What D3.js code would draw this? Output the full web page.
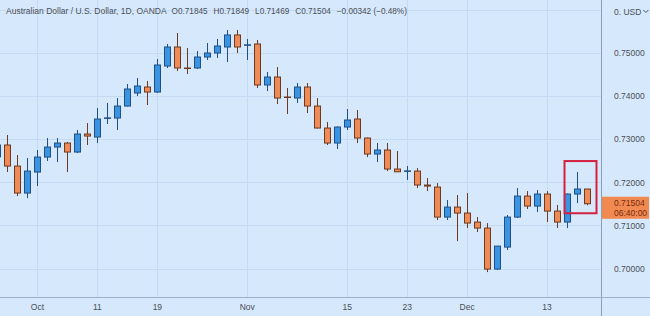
<!DOCTYPE html>
<html>
<head>
<meta charset="utf-8">
<script src="https://cdn.jsdelivr.net/npm/d3@7"></script>
<style>
  body { margin: 0; background: #d6e8fb; }
  svg { display: block; }
  text { font-family: "Liberation Sans", Arial, sans-serif; }
</style>
</head>
<body>
<script>
// AUD/USD daily, OANDA
const dates = [
  "2021-09-27","2021-09-28","2021-09-29","2021-09-30","2021-10-01",
  "2021-10-04","2021-10-05","2021-10-06","2021-10-07","2021-10-08",
  "2021-10-11","2021-10-12","2021-10-13","2021-10-14","2021-10-15",
  "2021-10-18","2021-10-19","2021-10-20","2021-10-21","2021-10-22",
  "2021-10-25","2021-10-26","2021-10-27","2021-10-28","2021-10-29",
  "2021-11-01","2021-11-02","2021-11-03","2021-11-04","2021-11-05",
  "2021-11-08","2021-11-09","2021-11-10","2021-11-11","2021-11-12",
  "2021-11-15","2021-11-16","2021-11-17","2021-11-18","2021-11-19",
  "2021-11-22","2021-11-23","2021-11-24","2021-11-25","2021-11-26",
  "2021-11-29","2021-11-30","2021-12-01","2021-12-02","2021-12-03",
  "2021-12-06","2021-12-07","2021-12-08","2021-12-09","2021-12-10",
  "2021-12-13","2021-12-14","2021-12-15","2021-12-16","2021-12-17"
];
const open = [
  0.72590,0.72866,0.72378,0.71752,0.72239,0.72587,0.72819,0.72912,0.72703,0.73121,
  0.73051,0.73490,0.73492,0.73770,0.74072,0.74211,0.74095,0.74698,0.75139,0.74652,
  0.74652,0.74907,0.75000,0.75139,0.75418,0.75186,0.75209,0.74258,0.74443,0.73979,
  0.73956,0.74211,0.73770,0.73260,0.72912,0.73283,0.73469,0.73028,0.72657,0.72750,
  0.72309,0.72262,0.72262,0.71938,0.71891,0.71195,0.71427,0.71288,0.71079,0.70940,
  0.69989,0.70499,0.71195,0.71682,0.71450,0.71729,0.71334,0.71079,0.71729,0.71845
];
const high = [
  0.73000,0.73098,0.72634,0.72564,0.72750,0.73028,0.73028,0.72935,0.73214,0.73376,
  0.73724,0.73840,0.73956,0.74280,0.74420,0.74350,0.74861,0.75209,0.75464,0.75116,
  0.75046,0.75232,0.75325,0.75534,0.75534,0.75325,0.75302,0.74559,0.74675,0.74188,
  0.74304,0.74304,0.73956,0.73400,0.73300,0.73701,0.73678,0.73040,0.72912,0.72912,
  0.72726,0.72378,0.72332,0.72100,0.71984,0.71590,0.71706,0.71752,0.71195,0.71056,
  0.70522,0.71242,0.71868,0.71798,0.71822,0.71798,0.71474,0.71740,0.72239,0.71849
];
const low = [
  0.72500,0.72239,0.71682,0.71636,0.71914,0.72494,0.72471,0.72239,0.72680,0.72866,
  0.72912,0.73353,0.73214,0.73760,0.74002,0.73794,0.74072,0.74652,0.74582,0.74513,
  0.74630,0.74838,0.74884,0.74791,0.75000,0.74838,0.74188,0.74118,0.73817,0.73585,
  0.73840,0.73608,0.73250,0.72866,0.72773,0.73214,0.72912,0.72587,0.72471,0.72262,
  0.72239,0.72054,0.71868,0.71798,0.71126,0.71126,0.70638,0.70940,0.70847,0.69919,
  0.69966,0.70430,0.71172,0.71381,0.71311,0.71079,0.70940,0.70940,0.71520,0.71469
];
const close = [
  0.72866,0.72378,0.71752,0.72262,0.72587,0.72819,0.72912,0.72703,0.73121,0.73074,
  0.73469,0.73495,0.73770,0.74165,0.74234,0.74095,0.74722,0.75139,0.74652,0.74645,
  0.74907,0.75000,0.75162,0.75418,0.75139,0.75190,0.74258,0.74443,0.73956,0.73975,
  0.74211,0.73770,0.73260,0.72912,0.73283,0.73446,0.73028,0.72657,0.72750,0.72309,
  0.72245,0.72266,0.71938,0.71914,0.71195,0.71427,0.71288,0.71056,0.70940,0.69989,
  0.70522,0.71195,0.71682,0.71450,0.71729,0.71334,0.71079,0.71729,0.71846,0.71504
];
const dateTicks = ["2021-10-01","2021-10-11","2021-10-19","2021-11-01","2021-11-15","2021-11-23","2021-12-01","2021-12-13"];
const dateLabels = ["Oct","11","19","Nov","15","23","Dec","13"];
const priceTicks = [0.70, 0.71, 0.72, 0.73, 0.74, 0.75];
const gridPrices = [0.70, 0.71, 0.72, 0.73, 0.74, 0.75, 0.76];
const highlight = ["2021-12-16", "2021-12-17"];
const timer = "06:40:00";

const W = 650, H = 316;
const axisX = 601, axisY = 297;
const upFill = "#3a94e2", upLine = "#1f4f84";
const downFill = "#ef8b56", downLine = "#6e3a1f";
const txt = "#4a4f57";

const x = d3.scalePoint().domain(dates).range([-3, 586.5]);
const y = d3.scaleLinear().domain([0.70, 0.75]).range([268.6, 53]);

const candles = dates.map((d, i) => ({date: d, o: open[i], h: high[i], l: low[i], c: close[i]}));
const last = candles[candles.length - 1];
const prev = candles[candles.length - 2];

const svg = d3.select("body").append("svg").attr("width", W).attr("height", H);

svg.append("rect").attr("width", W).attr("height", H).attr("fill", "#d6e8fb");

// grid
const grid = svg.append("g").attr("stroke", "#c4dbf3").attr("stroke-width", 1);
grid.selectAll("line.h").data(gridPrices).enter().append("line")
  .attr("x1", 0).attr("x2", axisX)
  .attr("y1", d => Math.round(y(d)) + 0.5).attr("y2", d => Math.round(y(d)) + 0.5);
grid.selectAll("line.v").data(dateTicks).enter().append("line")
  .attr("y1", 0).attr("y2", axisY)
  .attr("x1", d => Math.round(x(d)) + 0.5).attr("x2", d => Math.round(x(d)) + 0.5);

// candles
const cg = svg.append("g").selectAll("g").data(candles).enter().append("g");
cg.append("line")
  .attr("x1", d => Math.round(x(d.date)) + 0.5).attr("x2", d => Math.round(x(d.date)) + 0.5)
  .attr("y1", d => y(d.h)).attr("y2", d => y(d.l))
  .attr("stroke", d => d.c >= d.o ? upLine : downLine);
cg.append("rect")
  .attr("x", d => Math.round(x(d.date)) - 3 + 0.5)
  .attr("width", 6)
  .attr("y", d => y(Math.max(d.o, d.c)))
  .attr("height", d => Math.max(0.5, Math.abs(y(d.o) - y(d.c))))
  .attr("fill", d => d.c >= d.o ? upFill : downFill)
  .attr("stroke", d => d.c >= d.o ? upLine : downLine);

// highlight box round the last two candles
const hl = candles.filter(d => highlight.includes(d.date));
const hx0 = x(hl[0].date) - 12, hx1 = x(hl[hl.length - 1].date) + 10;
const hy0 = y(d3.max(hl, d => d.h)) - 11, hy1 = y(d3.min(hl, d => d.l)) + 8;
svg.append("rect")
  .attr("x", hx0).attr("y", hy0).attr("width", hx1 - hx0).attr("height", hy1 - hy0)
  .attr("fill", "none").attr("stroke", "#d4203f").attr("stroke-width", 2);

// axes frame
svg.append("line").attr("x1", axisX + 0.5).attr("x2", axisX + 0.5).attr("y1", 0).attr("y2", H)
  .attr("stroke", "#8d9db3");
svg.append("line").attr("x1", 0).attr("x2", W).attr("y1", axisY + 0.5).attr("y2", axisY + 0.5)
  .attr("stroke", "#9fb0c6");

// price axis
const yAxis = d3.axisRight(y).tickValues(priceTicks).tickFormat(d3.format(".5f")).tickSize(0).tickPadding(0);
svg.append("g").attr("transform", `translate(${axisX + 13},0)`).call(yAxis)
  .call(g => g.select(".domain").remove())
  .call(g => g.selectAll("text").attr("fill", txt).attr("font-size", 8.5)
    .attr("font-family", "Liberation Sans, Arial, sans-serif"));

// currency label with a small chevron
const cur = svg.append("text").attr("x", axisX + 13).attr("y", 15)
  .attr("font-size", 8.5).attr("fill", txt).text("0. USD");
const cx = axisX + 13 + cur.node().getComputedTextLength() + 2;
svg.append("path").attr("d", `M${cx},10 l2.5,2.5 l2.5,-2.5`)
  .attr("fill", "none").attr("stroke", txt).attr("stroke-width", 1);

// current price label
const py = y(last.c);
svg.append("rect").attr("x", axisX + 1).attr("y", py - 7).attr("width", 47).attr("height", 22)
  .attr("fill", "#f08a50");
svg.append("text").attr("x", axisX + 13).attr("y", py + 2.5)
  .attr("font-size", 8.5).attr("fill", "#7a2a10").text(d3.format(".5f")(last.c));
svg.append("text").attr("x", axisX + 13).attr("y", py + 12)
  .attr("font-size", 8.5).attr("fill", "#7a2a10").text(timer);

// time axis
const xAxis = d3.axisBottom(x).tickValues(dateTicks)
  .tickFormat((d, i) => dateLabels[i]).tickSize(0).tickPadding(0);
svg.append("g").attr("transform", `translate(0,${axisY + 7})`).call(xAxis)
  .call(g => g.select(".domain").remove())
  .call(g => g.selectAll("text").attr("fill", txt).attr("font-size", 8.5)
    .attr("font-family", "Liberation Sans, Arial, sans-serif"));

// legend line, laid out piece by piece
const chg = last.c - prev.c;
const f5 = d3.format(".5f");
const header = [
  "Australian Dollar / U.S. Dollar, 1D, OANDA",
  "O" + f5(last.o),
  "H" + f5(last.h),
  "L" + f5(last.l),
  "C" + f5(last.c),
  "\u2212" + f5(Math.abs(chg)) + " (\u2212" + d3.format(".2f")(Math.abs(chg) / prev.c * 100) + "%)"
];
let hxPos = 6;
header.forEach((t, i) => {
  const node = svg.append("text").attr("x", hxPos).attr("y", 14)
    .attr("font-size", i === 0 ? 8.5 : 8.2).attr("fill", txt).text(t);
  hxPos += node.node().getComputedTextLength() + (i === 0 ? 5 : 6);
});
</script>
</body>
</html>
